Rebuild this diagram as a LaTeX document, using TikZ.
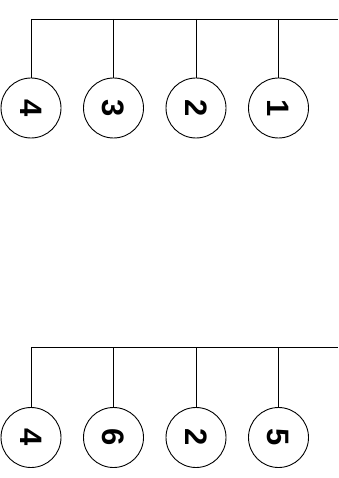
\documentclass[tikz,border=0pt]{standalone}
\usepackage{fontspec}
\setmainfont{Liberation Sans}
\begin{document}
\begin{tikzpicture}[x=1pt,y=-1pt,
  ball/.style={draw, line width=0.9pt, circle, minimum size=60pt, inner sep=0pt,
    font=\fontsize{31}{31}\selectfont\bfseries, rotate=-90},
  wire/.style={line width=0.9pt}]
\useasboundingbox (0,0) rectangle (338,478);
% top row
\coordinate (t0) at (338,19);
\coordinate (ta) at (31,19);
\coordinate (tb) at (113.5,19);
\coordinate (tc) at (196,19);
\coordinate (td) at (278.5,19);
\node[ball] (a1) at (31,108) {4};
\node[ball] (b1) at (113.5,108) {3};
\node[ball] (c1) at (196,108) {2};
\node[ball] (d1) at (278.5,108) {1};
\draw[wire] (ta) -- (t0);
\draw[wire] (ta) -- (a1);
\draw[wire] (tb) -- (b1);
\draw[wire] (tc) -- (c1);
\draw[wire] (td) -- (d1);
% bottom row
\coordinate (s0) at (338,347.5);
\coordinate (sa) at (31,347.5);
\coordinate (sb) at (113.5,347.5);
\coordinate (sc) at (196,347.5);
\coordinate (sd) at (278.5,347.5);
\node[ball] (a2) at (31,437.5) {4};
\node[ball] (b2) at (113.5,437.5) {6};
\node[ball] (c2) at (196,437.5) {2};
\node[ball] (d2) at (278.5,437.5) {5};
\draw[wire] (sa) -- (s0);
\draw[wire] (sa) -- (a2);
\draw[wire] (sb) -- (b2);
\draw[wire] (sc) -- (c2);
\draw[wire] (sd) -- (d2);
\end{tikzpicture}
\end{document}
